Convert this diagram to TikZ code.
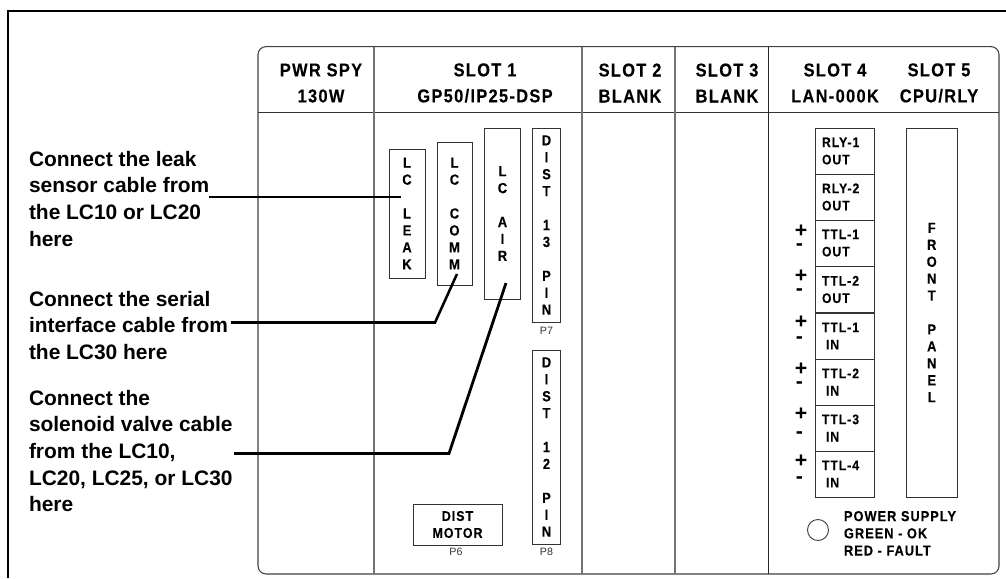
\documentclass[tikz,border=0pt]{standalone}
\usepackage{fontspec}
\setmainfont{Liberation Sans}
\newfontfamily\lsp[LetterSpace=7,FakeStretch=0.88,FakeBold=0.2,BoldFont={Liberation Sans Bold},BoldFeatures={LetterSpace=7,FakeStretch=0.88,FakeBold=0.2}]{Liberation Sans}
\tikzset{
  every node/.style={inner sep=0pt,outer sep=0pt},
  frameline/.style={line width=1.9pt,black},
  panel/.style={draw=black!75,line width=0.8pt,rounded corners=6pt},
  divider/.style={draw=black!55,line width=1pt},
  thindiv/.style={draw=black!85,line width=0.75pt},
  headrule/.style={draw=black!80,line width=0.75pt},
  caption/.style={anchor=north west,align=left,font=\fontsize{15.7pt}{20pt}\selectfont\bfseries},
  header/.style={align=center,font=\lsp\fontsize{14pt}{19.5pt}\selectfont\bfseries},
  portbox/.style={draw=black!80,line width=0.75pt,align=center,font=\lsp\fontsize{11pt}{12.7pt}\selectfont\bfseries},
  stackbox/.style={draw=black!80,line width=0.75pt,minimum width=43.9pt,minimum height=34.5pt,inner xsep=4.5pt,text width=34.9pt,align=left,font=\lsp\fontsize{10.4pt}{13pt}\selectfont\bfseries},
  pin/.style={font=\fontsize{8pt}{9pt}\selectfont,text=black!80},
  polarity/.style={anchor=north,align=center,font=\fontsize{16pt}{9pt}\selectfont\bfseries},
  leader/.style={draw=black,line width=2.1pt},
}
\begin{document}
\begin{tikzpicture}[x=0.75pt,y=-0.75pt]
\useasboundingbox (0,0) rectangle (1006,578);
\coordinate (frameA) at (8,578);
\coordinate (frameB) at (8,11);
\coordinate (frameC) at (1006,11);
\draw[frameline] (frameA) -- (frameB) -- (frameC);
% panel
\node[panel,minimum width=555.75pt,minimum height=395.5pt] (panelbox) at (628.5,310.3) {};
\coordinate (ruleL) at (258,112);
\coordinate (ruleR) at (999,112);
\draw[headrule] (ruleL) -- (ruleR);
\foreach \nm/\xx in {a/374,b/582,c/675}{
  \coordinate (\nm T) at (\xx,46.5);
  \coordinate (\nm B) at (\xx,574);
  \draw[divider] (\nm T) -- (\nm B);
}
\coordinate (dT) at (768,46.5);
\coordinate (dB) at (768,574);
\draw[thindiv] (dT) -- (dB);
% headers
\node[header] (h0) at (321,83) {PWR SPY\\130W};
\node[header] (h1) at (485,83) {SLOT 1\\GP50/IP25-DSP};
\node[header] (h2) at (630,83) {SLOT 2\\BLANK};
\node[header] (h3) at (727,83) {SLOT 3\\BLANK};
\node[header] (h4) at (835,83) {SLOT 4\\LAN-000K};
\node[header] (h5) at (939,83) {SLOT 5\\CPU/RLY};
% ports
\node[portbox,minimum width=27pt,minimum height=96.75pt] (leak) at (407,213.5) {L\\C\\[12.7pt]L\\E\\A\\K};
\node[portbox,minimum width=26.25pt,minimum height=107.25pt] (comm) at (454.5,213.5) {L\\C\\[12.7pt]C\\O\\M\\M};
\node[portbox,minimum width=27pt,minimum height=128.25pt] (air) at (502.5,213.5) {L\\C\\[12.7pt]A\\I\\R};
\node[portbox,minimum width=21pt,minimum height=145.5pt] (dist13) at (546.5,225) {D\\I\\S\\T\\[12.7pt]1\\3\\[12.7pt]P\\I\\N};
\node[portbox,minimum width=21pt,minimum height=145.5pt] (dist12) at (546.5,447) {D\\I\\S\\T\\[12.7pt]1\\2\\[12.7pt]P\\I\\N};
\node[portbox,minimum width=66.75pt,minimum height=30.75pt,font=\lsp\fontsize{10.6pt}{12.7pt}\selectfont\bfseries] (motor) at (457.5,524.5) {DIST\\MOTOR};
\node[pin] (p7) at (546.5,331) {P7};
\node[pin] (p8) at (546.5,552) {P8};
\node[pin] (p6) at (456,551.5) {P6};
% stack
\node[stackbox] (s1) at (845.25,151) {RLY-1\\OUT};
\node[stackbox] (s2) at (845.25,197) {RLY-2\\OUT};
\node[stackbox] (s3) at (845.25,243) {TTL-1\\OUT};
\node[stackbox] (s4) at (845.25,289.5) {TTL-2\\OUT};
\node[stackbox] (s5) at (845.25,336) {TTL-1\\\hspace*{3pt}IN};
\node[stackbox] (s6) at (845.25,382) {TTL-2\\\hspace*{3pt}IN};
\node[stackbox] (s7) at (845.25,428) {TTL-3\\\hspace*{3pt}IN};
\node[stackbox] (s8) at (845.25,474) {TTL-4\\\hspace*{3pt}IN};
\foreach \nm/\pp/\gp in {a/237.5/1.1pt,b/282.5/0.75pt,c/328.5/1.9pt,d/375.5/0.75pt,e/420.5/4.5pt,f/467.5/3pt}{
  \node[polarity] (pol\nm) at (801,\pp) {\smash{+}\\[\gp]\hspace*{-2.2pt}\smash{-}};
}
\node[portbox,minimum width=37.9pt,minimum height=276.75pt] (front) at (931.75,312.5) {F\\R\\O\\N\\T\\[12.7pt]P\\A\\N\\E\\L};
% power
\node[circle,draw=black!75,line width=0.7pt,minimum size=15.75pt] (led) at (818,530) {};
\node[anchor=north west,align=left,font=\lsp\fontsize{10.9pt}{12.9pt}\selectfont\bfseries] (power) at (844,511) {POWER SUPPLY\\GREEN - OK\\RED - FAULT};
% captions
\node[caption] (cap1) at (29,151) {Connect the leak\\sensor cable from\\the LC10 or LC20\\here};
\node[caption] (cap2) at (29,291) {Connect the serial\\interface cable from\\the LC30 here};
\node[caption] (cap3) at (29,390) {Connect the\\solenoid valve cable\\from the LC10,\\LC20, LC25, or LC30\\here};
% leaders
\coordinate (l1a) at (209,197);
\coordinate (l1b) at (401,197);
\draw[leader] (l1a) -- (l1b);
\coordinate (l2a) at (231,322.5);
\coordinate (l2b) at (435,322.5);
\coordinate (l2c) at (457,274);
\draw[leader,line width=1.9pt] (l2a) -- (l2b) -- (l2c);
\coordinate (l3a) at (234,453.5);
\coordinate (l3b) at (449,453.5);
\coordinate (l3c) at (506,283);
\draw[leader] (l3a) -- (l3b) -- (l3c);
\end{tikzpicture}
\end{document}
